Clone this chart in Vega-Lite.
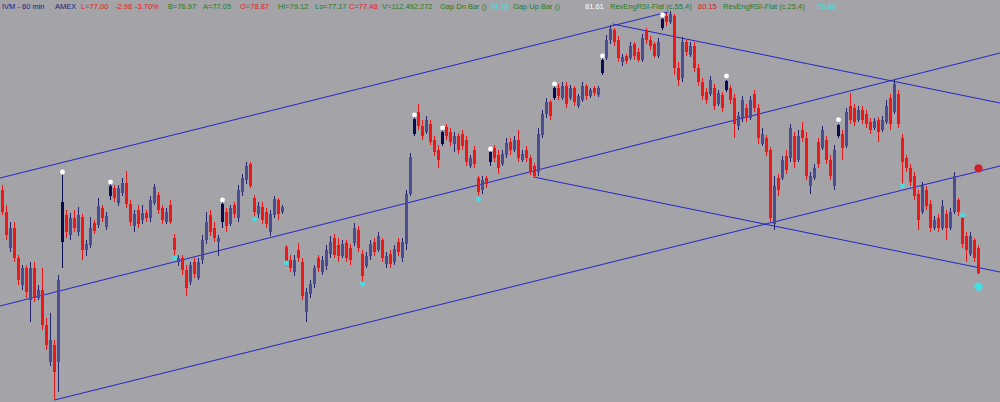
{
  "$schema": "https://vega.github.io/schema/vega-lite/v6.json",
  "width": 1000,
  "height": 402,
  "autosize": {"type": "fit", "contains": "padding"},
  "padding": {"left": 0, "right": 0, "top": 0, "bottom": 0},
  "background": "#a4a4a8",
  "config": {"padding": 0, "view": {"stroke": null}, "text": {"font": "Liberation Sans"}, "scale": {"continuousPadding": 0}},
  "datasets": {
    "bars": [
      {"i":0,"o":79.50,"h":79.65,"l":78.75,"c":78.84},
      {"i":1,"o":78.84,"h":79.05,"l":78.00,"c":78.15},
      {"i":2,"o":77.76,"h":78.54,"l":77.64,"c":78.36},
      {"i":3,"o":78.36,"h":78.54,"l":77.34,"c":77.46},
      {"i":4,"o":77.46,"h":77.55,"l":76.65,"c":76.80},
      {"i":5,"o":76.65,"h":77.25,"l":76.50,"c":77.16},
      {"i":6,"o":77.16,"h":77.25,"l":76.26,"c":76.44},
      {"i":7,"o":76.20,"h":77.34,"l":75.54,"c":77.16},
      {"i":8,"o":77.16,"h":77.34,"l":76.14,"c":76.26},
      {"i":9,"o":76.26,"h":76.65,"l":76.20,"c":76.50},
      {"i":10,"o":76.50,"h":77.16,"l":75.30,"c":75.45},
      {"i":11,"o":75.45,"h":75.66,"l":74.70,"c":74.85},
      {"i":12,"o":74.34,"h":75.81,"l":74.22,"c":75.00},
      {"i":13,"o":74.85,"h":75.00,"l":73.20,"c":74.04},
      {"i":14,"o":74.34,"h":76.95,"l":73.44,"c":76.80},
      {"i":15,"o":77.94,"h":79.95,"l":77.16,"c":79.14,"gap":true},
      {"i":16,"o":78.75,"h":78.90,"l":78.06,"c":78.24},
      {"i":17,"o":78.15,"h":78.81,"l":78.00,"c":78.66},
      {"i":18,"o":78.66,"h":78.90,"l":78.24,"c":78.36},
      {"i":19,"o":78.24,"h":78.99,"l":78.12,"c":78.75},
      {"i":20,"o":78.69,"h":78.78,"l":77.40,"c":77.70},
      {"i":21,"o":77.70,"h":78.00,"l":77.52,"c":77.88},
      {"i":22,"o":77.85,"h":78.69,"l":77.76,"c":78.36},
      {"i":23,"o":78.51,"h":78.60,"l":78.18,"c":78.27},
      {"i":24,"o":78.45,"h":79.26,"l":78.36,"c":79.02},
      {"i":25,"o":78.96,"h":79.05,"l":78.54,"c":78.66},
      {"i":26,"o":78.39,"h":78.84,"l":78.30,"c":78.72},
      {"i":27,"o":79.32,"h":79.68,"l":79.20,"c":79.62,"gap":true},
      {"i":28,"o":79.56,"h":79.65,"l":79.14,"c":79.26},
      {"i":29,"o":79.11,"h":79.65,"l":79.02,"c":79.56},
      {"i":30,"o":79.41,"h":79.86,"l":79.32,"c":79.71},
      {"i":31,"o":79.71,"h":80.07,"l":78.96,"c":79.08},
      {"i":32,"o":79.08,"h":79.20,"l":78.42,"c":78.54},
      {"i":33,"o":78.42,"h":78.90,"l":78.24,"c":78.78},
      {"i":34,"o":78.90,"h":79.05,"l":78.36,"c":78.48},
      {"i":35,"o":78.60,"h":79.05,"l":78.48,"c":78.81},
      {"i":36,"o":78.81,"h":78.90,"l":78.54,"c":78.66},
      {"i":37,"o":78.66,"h":79.32,"l":78.54,"c":79.20},
      {"i":38,"o":79.11,"h":79.68,"l":79.05,"c":79.59},
      {"i":39,"o":79.35,"h":79.44,"l":78.78,"c":78.90},
      {"i":40,"o":78.96,"h":79.05,"l":78.48,"c":78.60},
      {"i":41,"o":78.54,"h":78.96,"l":78.48,"c":78.84},
      {"i":42,"o":79.05,"h":79.20,"l":78.48,"c":78.54},
      {"i":43,"o":78.06,"h":78.18,"l":77.40,"c":77.70},
      {"i":44,"o":77.34,"h":77.55,"l":77.22,"c":77.46},
      {"i":45,"o":77.46,"h":77.55,"l":76.95,"c":77.10},
      {"i":46,"o":77.10,"h":77.25,"l":76.32,"c":76.56},
      {"i":47,"o":76.74,"h":77.34,"l":76.65,"c":77.25},
      {"i":48,"o":77.34,"h":77.46,"l":76.86,"c":76.98},
      {"i":49,"o":76.86,"h":77.46,"l":76.80,"c":77.34},
      {"i":50,"o":77.40,"h":78.15,"l":77.28,"c":78.00},
      {"i":51,"o":78.00,"h":78.84,"l":77.88,"c":78.54},
      {"i":52,"o":78.75,"h":78.90,"l":78.12,"c":78.24},
      {"i":53,"o":78.36,"h":78.54,"l":77.94,"c":78.06},
      {"i":54,"o":77.94,"h":78.15,"l":77.52,"c":78.06},
      {"i":55,"o":78.54,"h":79.14,"l":78.36,"c":79.08,"gap":true},
      {"i":56,"o":78.84,"h":78.96,"l":78.24,"c":78.42},
      {"i":57,"o":78.48,"h":79.05,"l":78.42,"c":78.96},
      {"i":58,"o":79.05,"h":79.14,"l":78.66,"c":78.78},
      {"i":59,"o":78.66,"h":79.65,"l":78.54,"c":79.50},
      {"i":60,"o":79.44,"h":79.98,"l":79.32,"c":79.86},
      {"i":61,"o":79.80,"h":80.34,"l":79.68,"c":80.22},
      {"i":62,"o":80.28,"h":80.34,"l":79.56,"c":79.62},
      {"i":63,"o":79.26,"h":79.35,"l":78.60,"c":78.84},
      {"i":64,"o":78.78,"h":79.14,"l":78.66,"c":79.02},
      {"i":65,"o":78.99,"h":79.14,"l":78.48,"c":78.60},
      {"i":66,"o":78.84,"h":78.96,"l":78.36,"c":78.48},
      {"i":67,"o":78.24,"h":78.90,"l":78.12,"c":78.78},
      {"i":68,"o":78.75,"h":79.32,"l":78.66,"c":79.23},
      {"i":69,"o":79.20,"h":79.26,"l":78.60,"c":78.78},
      {"i":70,"o":78.84,"h":79.05,"l":78.78,"c":78.99},
      {"i":71,"o":77.79,"h":77.85,"l":77.22,"c":77.34},
      {"i":72,"o":77.40,"h":77.55,"l":77.04,"c":77.16},
      {"i":73,"o":77.04,"h":77.55,"l":76.92,"c":77.40},
      {"i":74,"o":77.70,"h":77.91,"l":77.34,"c":77.46},
      {"i":75,"o":77.34,"h":77.46,"l":76.20,"c":76.32},
      {"i":76,"o":75.84,"h":76.56,"l":75.54,"c":76.44},
      {"i":77,"o":76.38,"h":76.80,"l":76.26,"c":76.68},
      {"i":78,"o":76.68,"h":77.25,"l":76.56,"c":77.16},
      {"i":79,"o":77.46,"h":77.55,"l":77.04,"c":77.16},
      {"i":80,"o":77.04,"h":77.52,"l":76.95,"c":77.40},
      {"i":81,"o":77.22,"h":77.85,"l":77.10,"c":77.70},
      {"i":82,"o":77.58,"h":78.12,"l":77.46,"c":77.94},
      {"i":83,"o":78.06,"h":78.18,"l":77.46,"c":77.55},
      {"i":84,"o":77.85,"h":78.06,"l":77.34,"c":77.52},
      {"i":85,"o":77.52,"h":78.00,"l":77.46,"c":77.88},
      {"i":86,"o":77.91,"h":78.00,"l":77.34,"c":77.46},
      {"i":87,"o":77.76,"h":77.88,"l":77.25,"c":77.40},
      {"i":88,"o":77.91,"h":78.51,"l":77.82,"c":78.36},
      {"i":89,"o":78.30,"h":78.42,"l":77.64,"c":77.76},
      {"i":90,"o":77.58,"h":77.70,"l":76.74,"c":76.92},
      {"i":91,"o":77.22,"h":77.64,"l":77.16,"c":77.52},
      {"i":92,"o":77.52,"h":78.00,"l":77.40,"c":77.88},
      {"i":93,"o":77.94,"h":78.06,"l":77.52,"c":77.64},
      {"i":94,"o":77.70,"h":78.24,"l":77.64,"c":78.12},
      {"i":95,"o":78.00,"h":78.06,"l":77.34,"c":77.46},
      {"i":96,"o":77.28,"h":77.64,"l":77.16,"c":77.52},
      {"i":97,"o":77.58,"h":77.70,"l":77.16,"c":77.28},
      {"i":98,"o":77.34,"h":77.85,"l":77.25,"c":77.73},
      {"i":99,"o":77.94,"h":78.06,"l":77.52,"c":77.64},
      {"i":100,"o":77.46,"h":78.06,"l":77.34,"c":77.94},
      {"i":101,"o":77.88,"h":79.50,"l":77.70,"c":79.38},
      {"i":102,"o":79.38,"h":80.61,"l":79.32,"c":80.49},
      {"i":103,"o":81.18,"h":81.72,"l":81.12,"c":81.63,"gap":true},
      {"i":104,"o":81.84,"h":82.08,"l":81.30,"c":81.42},
      {"i":105,"o":81.42,"h":81.60,"l":81.00,"c":81.12},
      {"i":106,"o":81.24,"h":81.72,"l":81.18,"c":81.60},
      {"i":107,"o":81.48,"h":81.60,"l":80.85,"c":80.94},
      {"i":108,"o":81.00,"h":81.12,"l":80.52,"c":80.64},
      {"i":109,"o":80.70,"h":80.85,"l":80.16,"c":80.40},
      {"i":110,"o":80.88,"h":81.30,"l":80.82,"c":81.24,"gap":true},
      {"i":111,"o":81.39,"h":81.48,"l":81.00,"c":81.12},
      {"i":112,"o":81.24,"h":81.36,"l":80.82,"c":80.94},
      {"i":113,"o":80.88,"h":81.24,"l":80.64,"c":81.12},
      {"i":114,"o":81.12,"h":81.21,"l":80.58,"c":80.70},
      {"i":115,"o":81.18,"h":81.30,"l":80.70,"c":80.82},
      {"i":116,"o":81.00,"h":81.12,"l":80.22,"c":80.34},
      {"i":117,"o":80.22,"h":80.55,"l":80.16,"c":80.46},
      {"i":118,"o":80.70,"h":80.82,"l":80.16,"c":80.28},
      {"i":119,"o":79.86,"h":79.92,"l":79.32,"c":79.44},
      {"i":120,"o":79.50,"h":79.92,"l":79.38,"c":79.80},
      {"i":121,"o":79.86,"h":79.92,"l":79.56,"c":79.68},
      {"i":122,"o":80.34,"h":80.70,"l":80.22,"c":80.64,"gap":true},
      {"i":123,"o":80.76,"h":80.85,"l":80.34,"c":80.46},
      {"i":124,"o":80.55,"h":80.70,"l":79.98,"c":80.16},
      {"i":125,"o":80.28,"h":80.70,"l":80.22,"c":80.58},
      {"i":126,"o":80.55,"h":81.06,"l":80.46,"c":80.91},
      {"i":127,"o":80.94,"h":81.06,"l":80.55,"c":80.70},
      {"i":128,"o":80.70,"h":81.12,"l":80.64,"c":81.00},
      {"i":129,"o":81.00,"h":81.30,"l":80.34,"c":80.46},
      {"i":130,"o":80.40,"h":80.70,"l":80.34,"c":80.58},
      {"i":131,"o":80.70,"h":80.82,"l":80.34,"c":80.46},
      {"i":132,"o":80.46,"h":80.55,"l":79.95,"c":80.04},
      {"i":133,"o":80.22,"h":80.31,"l":79.86,"c":79.92},
      {"i":134,"o":80.04,"h":81.36,"l":79.92,"c":81.18},
      {"i":135,"o":81.15,"h":81.90,"l":81.06,"c":81.78},
      {"i":136,"o":81.78,"h":82.26,"l":81.66,"c":82.14},
      {"i":137,"o":82.14,"h":82.20,"l":81.60,"c":81.72},
      {"i":138,"o":82.26,"h":82.62,"l":82.20,"c":82.56,"gap":true},
      {"i":139,"o":82.56,"h":82.68,"l":82.20,"c":82.32},
      {"i":140,"o":82.26,"h":82.74,"l":82.20,"c":82.62},
      {"i":141,"o":82.62,"h":82.74,"l":81.96,"c":82.08},
      {"i":142,"o":82.26,"h":82.65,"l":82.20,"c":82.56},
      {"i":143,"o":82.56,"h":82.62,"l":82.02,"c":82.14},
      {"i":144,"o":82.02,"h":82.38,"l":81.96,"c":82.32},
      {"i":145,"o":82.20,"h":82.74,"l":82.14,"c":82.62},
      {"i":146,"o":82.62,"h":82.68,"l":82.20,"c":82.32},
      {"i":147,"o":82.32,"h":82.56,"l":82.26,"c":82.50},
      {"i":148,"o":82.56,"h":82.62,"l":82.32,"c":82.41},
      {"i":149,"o":82.35,"h":82.62,"l":82.29,"c":82.56},
      {"i":150,"o":83.01,"h":83.46,"l":82.95,"c":83.40,"gap":true},
      {"i":151,"o":83.46,"h":84.15,"l":83.40,"c":84.00},
      {"i":152,"o":84.00,"h":84.45,"l":83.88,"c":84.33},
      {"i":153,"o":84.30,"h":84.36,"l":83.82,"c":83.94},
      {"i":154,"o":84.00,"h":84.12,"l":83.34,"c":83.46},
      {"i":155,"o":83.34,"h":83.58,"l":83.22,"c":83.49},
      {"i":156,"o":83.52,"h":83.58,"l":83.28,"c":83.37},
      {"i":157,"o":83.46,"h":83.94,"l":83.40,"c":83.82},
      {"i":158,"o":83.88,"h":83.94,"l":83.40,"c":83.52},
      {"i":159,"o":83.64,"h":83.76,"l":83.34,"c":83.40},
      {"i":160,"o":83.40,"h":84.18,"l":83.34,"c":84.06},
      {"i":161,"o":84.30,"h":84.36,"l":83.88,"c":84.00},
      {"i":162,"o":84.00,"h":84.12,"l":83.70,"c":83.82},
      {"i":163,"o":83.88,"h":83.94,"l":83.46,"c":83.52},
      {"i":164,"o":83.52,"h":84.06,"l":83.46,"c":83.94},
      {"i":165,"o":84.36,"h":84.66,"l":84.30,"c":84.63,"gap":true},
      {"i":166,"o":84.72,"h":84.81,"l":84.42,"c":84.54},
      {"i":167,"o":84.54,"h":84.87,"l":84.48,"c":84.78},
      {"i":168,"o":84.72,"h":84.78,"l":82.95,"c":83.16},
      {"i":169,"o":83.16,"h":83.34,"l":82.62,"c":82.80},
      {"i":170,"o":82.86,"h":84.09,"l":82.74,"c":83.94},
      {"i":171,"o":83.94,"h":84.00,"l":83.52,"c":83.64},
      {"i":172,"o":83.55,"h":83.94,"l":83.49,"c":83.82},
      {"i":173,"o":83.82,"h":83.94,"l":83.04,"c":83.16},
      {"i":174,"o":83.16,"h":83.28,"l":82.62,"c":82.74},
      {"i":175,"o":82.74,"h":82.86,"l":82.20,"c":82.32},
      {"i":176,"o":82.44,"h":82.56,"l":82.08,"c":82.20},
      {"i":177,"o":82.38,"h":82.92,"l":82.32,"c":82.80},
      {"i":178,"o":82.56,"h":82.68,"l":81.90,"c":82.02},
      {"i":179,"o":82.08,"h":82.50,"l":82.02,"c":82.41},
      {"i":180,"o":82.35,"h":82.44,"l":81.84,"c":81.96},
      {"i":181,"o":82.50,"h":82.80,"l":82.44,"c":82.77,"gap":true},
      {"i":182,"o":82.56,"h":82.65,"l":82.08,"c":82.20},
      {"i":183,"o":82.26,"h":82.38,"l":81.06,"c":81.48},
      {"i":184,"o":81.42,"h":81.84,"l":81.30,"c":81.72},
      {"i":185,"o":81.66,"h":82.32,"l":81.54,"c":82.20},
      {"i":186,"o":81.96,"h":82.08,"l":81.54,"c":81.66},
      {"i":187,"o":81.66,"h":82.32,"l":81.60,"c":82.20},
      {"i":188,"o":82.38,"h":82.50,"l":81.84,"c":81.96},
      {"i":189,"o":81.96,"h":82.08,"l":80.88,"c":81.06},
      {"i":190,"o":80.88,"h":81.36,"l":80.82,"c":81.18},
      {"i":191,"o":81.06,"h":81.15,"l":80.52,"c":80.64},
      {"i":192,"o":80.70,"h":80.79,"l":78.54,"c":78.66},
      {"i":193,"o":78.48,"h":79.92,"l":78.30,"c":79.62},
      {"i":194,"o":79.86,"h":79.98,"l":79.32,"c":79.50},
      {"i":195,"o":79.86,"h":80.52,"l":79.80,"c":80.40},
      {"i":196,"o":80.52,"h":80.70,"l":79.98,"c":80.10},
      {"i":197,"o":80.46,"h":81.48,"l":80.34,"c":81.36},
      {"i":198,"o":81.12,"h":81.24,"l":80.16,"c":80.34},
      {"i":199,"o":80.40,"h":81.30,"l":80.34,"c":81.12},
      {"i":200,"o":81.30,"h":81.54,"l":80.94,"c":81.06},
      {"i":201,"o":81.06,"h":81.24,"l":79.80,"c":79.92},
      {"i":202,"o":79.62,"h":80.04,"l":79.38,"c":79.92},
      {"i":203,"o":79.86,"h":80.28,"l":79.80,"c":80.16},
      {"i":204,"o":80.94,"h":81.06,"l":80.16,"c":80.28},
      {"i":205,"o":80.76,"h":81.42,"l":80.70,"c":81.30},
      {"i":206,"o":81.00,"h":81.12,"l":80.28,"c":80.40},
      {"i":207,"o":80.40,"h":80.55,"l":79.80,"c":79.92},
      {"i":208,"o":79.62,"h":80.85,"l":79.50,"c":80.70},
      {"i":209,"o":81.12,"h":81.48,"l":81.06,"c":81.45,"gap":true},
      {"i":210,"o":81.18,"h":81.30,"l":80.40,"c":80.76},
      {"i":211,"o":80.82,"h":81.96,"l":80.76,"c":81.84},
      {"i":212,"o":82.02,"h":82.41,"l":81.48,"c":81.60},
      {"i":213,"o":81.96,"h":82.08,"l":81.42,"c":81.54},
      {"i":214,"o":81.60,"h":82.02,"l":81.54,"c":81.90},
      {"i":215,"o":81.90,"h":82.02,"l":81.48,"c":81.60},
      {"i":216,"o":81.78,"h":81.90,"l":81.36,"c":81.48},
      {"i":217,"o":81.54,"h":81.66,"l":81.18,"c":81.30},
      {"i":218,"o":81.36,"h":81.66,"l":81.30,"c":81.57},
      {"i":219,"o":81.60,"h":81.69,"l":80.94,"c":81.24},
      {"i":220,"o":81.30,"h":81.72,"l":81.24,"c":81.60},
      {"i":221,"o":81.54,"h":82.20,"l":81.48,"c":82.02},
      {"i":222,"o":82.26,"h":82.38,"l":81.30,"c":81.48},
      {"i":223,"o":81.84,"h":82.80,"l":81.78,"c":82.68},
      {"i":224,"o":82.38,"h":82.50,"l":81.36,"c":81.48},
      {"i":225,"o":81.06,"h":81.18,"l":79.68,"c":80.34},
      {"i":226,"o":80.46,"h":80.55,"l":80.04,"c":80.16},
      {"i":227,"o":80.16,"h":80.28,"l":79.62,"c":79.74},
      {"i":228,"o":79.92,"h":80.04,"l":79.20,"c":79.32},
      {"i":229,"o":79.38,"h":79.50,"l":78.30,"c":78.60},
      {"i":230,"o":78.84,"h":79.74,"l":78.78,"c":79.62},
      {"i":231,"o":79.50,"h":79.62,"l":78.90,"c":79.02},
      {"i":232,"o":79.08,"h":79.20,"l":78.24,"c":78.36},
      {"i":233,"o":78.36,"h":78.72,"l":78.30,"c":78.60},
      {"i":234,"o":78.66,"h":78.78,"l":78.24,"c":78.36},
      {"i":235,"o":78.36,"h":79.20,"l":78.30,"c":79.02},
      {"i":236,"o":78.78,"h":78.90,"l":78.00,"c":78.36},
      {"i":237,"o":78.36,"h":78.96,"l":78.30,"c":78.84},
      {"i":238,"o":78.84,"h":80.04,"l":78.78,"c":79.92},
      {"i":239,"o":79.20,"h":79.26,"l":78.72,"c":78.84},
      {"i":240,"o":78.66,"h":78.75,"l":77.76,"c":77.88},
      {"i":241,"o":78.12,"h":78.24,"l":77.34,"c":77.70},
      {"i":242,"o":77.58,"h":78.24,"l":77.52,"c":78.12},
      {"i":243,"o":78.00,"h":78.06,"l":77.34,"c":77.46},
      {"i":244,"o":77.76,"h":77.85,"l":76.98,"c":77.00}
    ],
    "signals": [
      {"i":15,"p":80.04,"s":"Gap Up Bar"},
      {"i":27,"p":79.74,"s":"Gap Up Bar"},
      {"i":55,"p":79.20,"s":"Gap Up Bar"},
      {"i":103,"p":81.75,"s":"Gap Up Bar"},
      {"i":110,"p":81.36,"s":"Gap Up Bar"},
      {"i":122,"p":80.73,"s":"Gap Up Bar"},
      {"i":138,"p":82.68,"s":"Gap Up Bar"},
      {"i":150,"p":83.52,"s":"Gap Up Bar"},
      {"i":165,"p":84.75,"s":"Gap Up Bar"},
      {"i":181,"p":82.92,"s":"Gap Up Bar"},
      {"i":209,"p":81.61,"s":"Gap Up Bar"},
      {"i":43,"p":77.46,"s":"Gap Dn Bar"},
      {"i":63,"p":78.63,"s":"Gap Dn Bar"},
      {"i":71,"p":77.31,"s":"Gap Dn Bar"},
      {"i":90,"p":76.68,"s":"Gap Dn Bar"},
      {"i":119,"p":79.23,"s":"Gap Dn Bar"},
      {"i":225,"p":79.62,"s":"Gap Dn Bar"},
      {"i":240,"p":78.75,"s":"Gap Dn Bar"},
      {"i":244,"p":80.15,"s":"RevEngRSI-Flat (c,55,4)"},
      {"i":244,"p":76.60,"s":"RevEngRSI-Flat (c,25,4)"}
    ],
    "channels": [
      {"i":-0.625,"p":79.86,"i2":166.375,"p2":84.84},
      {"i":-0.625,"p":76.02,"i2":249.375,"p2":83.61},
      {"i":13,"p":73.20,"i2":249.375,"p2":80.22},
      {"i":152.5,"p":84.48,"i2":249.375,"p2":82.11},
      {"i":132.75,"p":79.89,"i2":249.375,"p2":77.04}
    ]
  },
  "layer": [
    {
      "data": {"name": "channels"},
      "mark": {"type": "rule", "color": "#2626c6", "strokeWidth": 1, "clip": true},
      "encoding": {
        "x": {"field": "i", "type": "quantitative", "scale": {"domain": [-0.625, 249.375], "nice": false, "zero": false, "padding": 0}, "axis": null},
        "x2": {"field": "i2"},
        "y": {"field": "p", "type": "quantitative", "scale": {"domain": [73.14, 85.2], "nice": false, "zero": false, "padding": 0}, "axis": null},
        "y2": {"field": "p2"}
      }
    },
    {
      "data": {"name": "bars"},
      "mark": {"type": "rule", "strokeWidth": 1},
      "encoding": {
        "x": {"field": "i", "type": "quantitative", "scale": {"domain": [-0.625, 249.375], "nice": false, "zero": false, "padding": 0}, "axis": null},
        "y": {"field": "l", "type": "quantitative", "scale": {"domain": [73.14, 85.2], "nice": false, "zero": false, "padding": 0}, "axis": null},
        "y2": {"field": "h"},
        "color": {
          "condition": [
            {"test": "datum.gap", "value": "#0c0c52"},
            {"test": "datum.c < datum.o", "value": "#f01616"}
          ],
          "value": "#24246e"
        }
      }
    },
    {
      "data": {"name": "bars"},
      "mark": {"type": "bar", "width": 3},
      "encoding": {
        "x": {"field": "i", "type": "quantitative", "scale": {"domain": [-0.625, 249.375], "nice": false, "zero": false, "padding": 0}, "axis": null},
        "y": {"field": "o", "type": "quantitative", "scale": {"domain": [73.14, 85.2], "nice": false, "zero": false, "padding": 0}, "axis": null},
        "y2": {"field": "c"},
        "color": {
          "condition": [
            {"test": "datum.gap", "value": "#0c0c52"},
            {"test": "datum.c < datum.o", "value": "#f01616"}
          ],
          "value": "#4c4c92"
        }
      }
    },
    {
      "data": {"name": "signals"},
      "mark": {"type": "circle", "opacity": 1},
      "encoding": {
        "x": {"field": "i", "type": "quantitative", "scale": {"domain": [-0.625, 249.375], "nice": false, "zero": false, "padding": 0}, "axis": null},
        "y": {"field": "p", "type": "quantitative", "scale": {"domain": [73.14, 85.2], "nice": false, "zero": false, "padding": 0}, "axis": null},
        "color": {
          "field": "s", "type": "nominal",
          "scale": {"domain": ["Gap Up Bar", "Gap Dn Bar", "RevEngRSI-Flat (c,55,4)", "RevEngRSI-Flat (c,25,4)"], "range": ["#ffffff", "#3ee2e6", "#d0202a", "#3ee2e6"]},
          "legend": null
        },
        "size": {"condition": {"test": "indexof(datum.s, 'RevEng') == 0", "value": 70}, "value": 24}
      }
    },
    {"data": {"values": [{}]}, "mark": {"type": "text", "text": "IVM - 60 min", "color": "#1a1a78", "align": "left", "baseline": "middle", "fontSize": 7.5},
     "encoding": {"x": {"datum": -0.125, "type": "quantitative", "scale": {"domain": [-0.625, 249.375], "nice": false, "zero": false, "padding": 0}, "axis": null}, "y": {"datum": 84.99, "type": "quantitative", "scale": {"domain": [73.14, 85.2], "nice": false, "zero": false, "padding": 0}, "axis": null}}},
    {"data": {"values": [{}]}, "mark": {"type": "text", "text": "AMEX", "color": "#1a1a78", "align": "left", "baseline": "middle", "fontSize": 7.5},
     "encoding": {"x": {"datum": 13.125, "type": "quantitative", "scale": {"domain": [-0.625, 249.375], "nice": false, "zero": false, "padding": 0}, "axis": null}, "y": {"datum": 84.99, "type": "quantitative", "scale": {"domain": [73.14, 85.2], "nice": false, "zero": false, "padding": 0}, "axis": null}}},
    {"data": {"values": [{}]}, "mark": {"type": "text", "text": "L=77.00", "color": "#e01818", "align": "left", "baseline": "middle", "fontSize": 7.5},
     "encoding": {"x": {"datum": 19.625, "type": "quantitative", "scale": {"domain": [-0.625, 249.375], "nice": false, "zero": false, "padding": 0}, "axis": null}, "y": {"datum": 84.99, "type": "quantitative", "scale": {"domain": [73.14, 85.2], "nice": false, "zero": false, "padding": 0}, "axis": null}}},
    {"data": {"values": [{}]}, "mark": {"type": "text", "text": "-2.98", "color": "#e01818", "align": "left", "baseline": "middle", "fontSize": 7.5},
     "encoding": {"x": {"datum": 28.125, "type": "quantitative", "scale": {"domain": [-0.625, 249.375], "nice": false, "zero": false, "padding": 0}, "axis": null}, "y": {"datum": 84.99, "type": "quantitative", "scale": {"domain": [73.14, 85.2], "nice": false, "zero": false, "padding": 0}, "axis": null}}},
    {"data": {"values": [{}]}, "mark": {"type": "text", "text": "-3.70%", "color": "#e01818", "align": "left", "baseline": "middle", "fontSize": 7.5},
     "encoding": {"x": {"datum": 33.125, "type": "quantitative", "scale": {"domain": [-0.625, 249.375], "nice": false, "zero": false, "padding": 0}, "axis": null}, "y": {"datum": 84.99, "type": "quantitative", "scale": {"domain": [73.14, 85.2], "nice": false, "zero": false, "padding": 0}, "axis": null}}},
    {"data": {"values": [{}]}, "mark": {"type": "text", "text": "B=76.97", "color": "#267a26", "align": "left", "baseline": "middle", "fontSize": 7.5},
     "encoding": {"x": {"datum": 41.375, "type": "quantitative", "scale": {"domain": [-0.625, 249.375], "nice": false, "zero": false, "padding": 0}, "axis": null}, "y": {"datum": 84.99, "type": "quantitative", "scale": {"domain": [73.14, 85.2], "nice": false, "zero": false, "padding": 0}, "axis": null}}},
    {"data": {"values": [{}]}, "mark": {"type": "text", "text": "A=77.05", "color": "#267a26", "align": "left", "baseline": "middle", "fontSize": 7.5},
     "encoding": {"x": {"datum": 50.125, "type": "quantitative", "scale": {"domain": [-0.625, 249.375], "nice": false, "zero": false, "padding": 0}, "axis": null}, "y": {"datum": 84.99, "type": "quantitative", "scale": {"domain": [73.14, 85.2], "nice": false, "zero": false, "padding": 0}, "axis": null}}},
    {"data": {"values": [{}]}, "mark": {"type": "text", "text": "O=78.87", "color": "#e01818", "align": "left", "baseline": "middle", "fontSize": 7.5},
     "encoding": {"x": {"datum": 59.375, "type": "quantitative", "scale": {"domain": [-0.625, 249.375], "nice": false, "zero": false, "padding": 0}, "axis": null}, "y": {"datum": 84.99, "type": "quantitative", "scale": {"domain": [73.14, 85.2], "nice": false, "zero": false, "padding": 0}, "axis": null}}},
    {"data": {"values": [{}]}, "mark": {"type": "text", "text": "Hi=79.12", "color": "#267a26", "align": "left", "baseline": "middle", "fontSize": 7.5},
     "encoding": {"x": {"datum": 68.875, "type": "quantitative", "scale": {"domain": [-0.625, 249.375], "nice": false, "zero": false, "padding": 0}, "axis": null}, "y": {"datum": 84.99, "type": "quantitative", "scale": {"domain": [73.14, 85.2], "nice": false, "zero": false, "padding": 0}, "axis": null}}},
    {"data": {"values": [{}]}, "mark": {"type": "text", "text": "Lo=77.17", "color": "#267a26", "align": "left", "baseline": "middle", "fontSize": 7.5},
     "encoding": {"x": {"datum": 78.125, "type": "quantitative", "scale": {"domain": [-0.625, 249.375], "nice": false, "zero": false, "padding": 0}, "axis": null}, "y": {"datum": 84.99, "type": "quantitative", "scale": {"domain": [73.14, 85.2], "nice": false, "zero": false, "padding": 0}, "axis": null}}},
    {"data": {"values": [{}]}, "mark": {"type": "text", "text": "C=77.48", "color": "#e01818", "align": "left", "baseline": "middle", "fontSize": 7.5},
     "encoding": {"x": {"datum": 86.625, "type": "quantitative", "scale": {"domain": [-0.625, 249.375], "nice": false, "zero": false, "padding": 0}, "axis": null}, "y": {"datum": 84.99, "type": "quantitative", "scale": {"domain": [73.14, 85.2], "nice": false, "zero": false, "padding": 0}, "axis": null}}},
    {"data": {"values": [{}]}, "mark": {"type": "text", "text": "V=112,492,272", "color": "#267a26", "align": "left", "baseline": "middle", "fontSize": 7.5},
     "encoding": {"x": {"datum": 94.875, "type": "quantitative", "scale": {"domain": [-0.625, 249.375], "nice": false, "zero": false, "padding": 0}, "axis": null}, "y": {"datum": 84.99, "type": "quantitative", "scale": {"domain": [73.14, 85.2], "nice": false, "zero": false, "padding": 0}, "axis": null}}},
    {"data": {"values": [{}]}, "mark": {"type": "text", "text": "Gap Dn Bar ()", "color": "#267a26", "align": "left", "baseline": "middle", "fontSize": 7.5},
     "encoding": {"x": {"datum": 109.375, "type": "quantitative", "scale": {"domain": [-0.625, 249.375], "nice": false, "zero": false, "padding": 0}, "axis": null}, "y": {"datum": 84.99, "type": "quantitative", "scale": {"domain": [73.14, 85.2], "nice": false, "zero": false, "padding": 0}, "axis": null}}},
    {"data": {"values": [{}]}, "mark": {"type": "text", "text": "78.75", "color": "#3ee2e6", "align": "left", "baseline": "middle", "fontSize": 7.5},
     "encoding": {"x": {"datum": 121.875, "type": "quantitative", "scale": {"domain": [-0.625, 249.375], "nice": false, "zero": false, "padding": 0}, "axis": null}, "y": {"datum": 84.99, "type": "quantitative", "scale": {"domain": [73.14, 85.2], "nice": false, "zero": false, "padding": 0}, "axis": null}}},
    {"data": {"values": [{}]}, "mark": {"type": "text", "text": "Gap Up Bar ()", "color": "#267a26", "align": "left", "baseline": "middle", "fontSize": 7.5},
     "encoding": {"x": {"datum": 127.625, "type": "quantitative", "scale": {"domain": [-0.625, 249.375], "nice": false, "zero": false, "padding": 0}, "axis": null}, "y": {"datum": 84.99, "type": "quantitative", "scale": {"domain": [73.14, 85.2], "nice": false, "zero": false, "padding": 0}, "axis": null}}},
    {"data": {"values": [{}]}, "mark": {"type": "text", "text": "81.61", "color": "#ffffff", "align": "left", "baseline": "middle", "fontSize": 7.5},
     "encoding": {"x": {"datum": 145.625, "type": "quantitative", "scale": {"domain": [-0.625, 249.375], "nice": false, "zero": false, "padding": 0}, "axis": null}, "y": {"datum": 84.99, "type": "quantitative", "scale": {"domain": [73.14, 85.2], "nice": false, "zero": false, "padding": 0}, "axis": null}}},
    {"data": {"values": [{}]}, "mark": {"type": "text", "text": "RevEngRSI-Flat (c,55,4)", "color": "#267a26", "align": "left", "baseline": "middle", "fontSize": 7.5},
     "encoding": {"x": {"datum": 151.875, "type": "quantitative", "scale": {"domain": [-0.625, 249.375], "nice": false, "zero": false, "padding": 0}, "axis": null}, "y": {"datum": 84.99, "type": "quantitative", "scale": {"domain": [73.14, 85.2], "nice": false, "zero": false, "padding": 0}, "axis": null}}},
    {"data": {"values": [{}]}, "mark": {"type": "text", "text": "80.15", "color": "#e01818", "align": "left", "baseline": "middle", "fontSize": 7.5},
     "encoding": {"x": {"datum": 173.875, "type": "quantitative", "scale": {"domain": [-0.625, 249.375], "nice": false, "zero": false, "padding": 0}, "axis": null}, "y": {"datum": 84.99, "type": "quantitative", "scale": {"domain": [73.14, 85.2], "nice": false, "zero": false, "padding": 0}, "axis": null}}},
    {"data": {"values": [{}]}, "mark": {"type": "text", "text": "RevEngRSI-Flat (c,25,4)", "color": "#267a26", "align": "left", "baseline": "middle", "fontSize": 7.5},
     "encoding": {"x": {"datum": 180.125, "type": "quantitative", "scale": {"domain": [-0.625, 249.375], "nice": false, "zero": false, "padding": 0}, "axis": null}, "y": {"datum": 84.99, "type": "quantitative", "scale": {"domain": [73.14, 85.2], "nice": false, "zero": false, "padding": 0}, "axis": null}}},
    {"data": {"values": [{}]}, "mark": {"type": "text", "text": "76.60", "color": "#3ee2e6", "align": "left", "baseline": "middle", "fontSize": 7.5},
     "encoding": {"x": {"datum": 203.625, "type": "quantitative", "scale": {"domain": [-0.625, 249.375], "nice": false, "zero": false, "padding": 0}, "axis": null}, "y": {"datum": 84.99, "type": "quantitative", "scale": {"domain": [73.14, 85.2], "nice": false, "zero": false, "padding": 0}, "axis": null}}}
  ]
}
